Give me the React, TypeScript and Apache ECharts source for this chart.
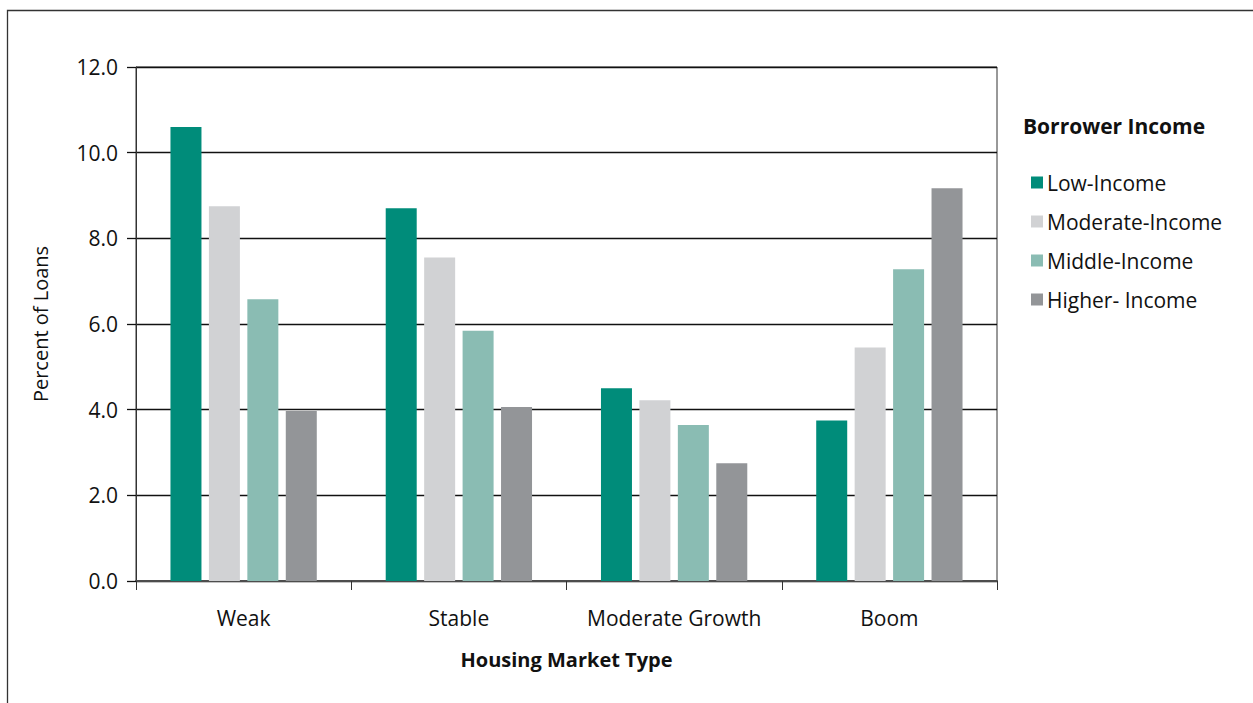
import React, { useEffect, useRef } from "react";
import * as echarts from "echarts";

const categories = ["Weak", "Stable", "Moderate Growth", "Boom"];
const seriesNames = ["Low-Income", "Moderate-Income", "Middle-Income", "Higher- Income"];
const lowIncome = [10.6, 8.7, 4.5, 3.75];
const moderateIncome = [8.75, 7.55, 4.22, 5.45];
const middleIncome = [6.58, 5.84, 3.64, 7.28];
const higherIncome = [3.97, 4.06, 2.75, 9.17];
const colors = ["#008c7a", "#d1d2d4", "#8abcb3", "#939598"];
const yTicks = { min: 0, max: 12, interval: 2 };

const FONT = "'Open Sans', 'Noto Sans', sans-serif";

export default function App() {
  const ref = useRef<HTMLDivElement>(null);
  useEffect(() => {
    const chart = echarts.init(ref.current!, null, { renderer: "svg" });
    const data = [lowIncome, moderateIncome, middleIncome, higherIncome];
    chart.setOption({
      animation: false,
      backgroundColor: "#ffffff",
      textStyle: { fontFamily: FONT, color: "#111" },
      title: {
        text: "Borrower Income",
        left: 1018,
        top: 110,
        textStyle: { fontFamily: FONT, fontSize: 21, fontWeight: "bold", color: "#111" },
      },
      legend: {
        orient: "vertical",
        left: 1026,
        top: 167,
        icon: "rect",
        itemWidth: 12,
        itemHeight: 12,
        itemGap: 18,
        textStyle: { fontFamily: FONT, fontSize: 21, color: "#111", padding: [0, 0, 0, -1] },
        data: seriesNames,
      },
      graphic: [
        {
          type: "polyline",
          shape: { points: [[7.5, 720], [7.5, 10.5], [1260, 10.5]] },
          style: { stroke: "#333", lineWidth: 1.3, fill: null },
          silent: true,
        },
      ],
      grid: {
        left: 136,
        right: 256,
        top: 67,
        bottom: 122,
        show: true,
        borderColor: "#333",
        borderWidth: 1,
        backgroundColor: "transparent",
      },
      xAxis: {
        type: "category",
        data: categories,
        name: "Housing Market Type",
        nameLocation: "middle",
        nameGap: 68,
        nameTextStyle: { fontFamily: FONT, fontSize: 20, fontWeight: "bold", color: "#111" },
        axisLine: { show: true, lineStyle: { color: "#4d4d4d", width: 2 } },
        axisTick: { show: true, length: 9, interval: 0, lineStyle: { color: "#333", width: 1 } },
        axisLabel: { fontFamily: FONT, fontSize: 21, color: "#111", margin: 26, interval: 0 },
        splitLine: { show: false },
      },
      yAxis: {
        type: "value",
        min: yTicks.min,
        max: yTicks.max,
        interval: yTicks.interval,
        name: "Percent of Loans",
        nameLocation: "middle",
        nameGap: 86,
        nameRotate: 90,
        nameTextStyle: { fontFamily: FONT, fontSize: 20, color: "#111" },
        axisLine: { show: true, lineStyle: { color: "#333", width: 1 } },
        axisTick: { show: true, length: 9, lineStyle: { color: "#111", width: 1.3 } },
        axisLabel: {
          fontFamily: FONT,
          fontSize: 21,
          color: "#111",
          margin: 18,
          formatter: (v: number) => v.toFixed(1),
        },
        splitLine: { show: true, lineStyle: { color: "#111", width: 1.3 } },
      },
      series: seriesNames.map((name, i) => ({
        name,
        type: "bar",
        data: data[i],
        barWidth: 31,
        barGap: "24%",
        itemStyle: { color: colors[i] },
      })),
    });
    return () => chart.dispose();
  }, []);
  return (
    <div
      ref={ref}
      style={{ position: "absolute", left: 0, top: 0, width: 1253, height: 703 }}
    />
  );
}
